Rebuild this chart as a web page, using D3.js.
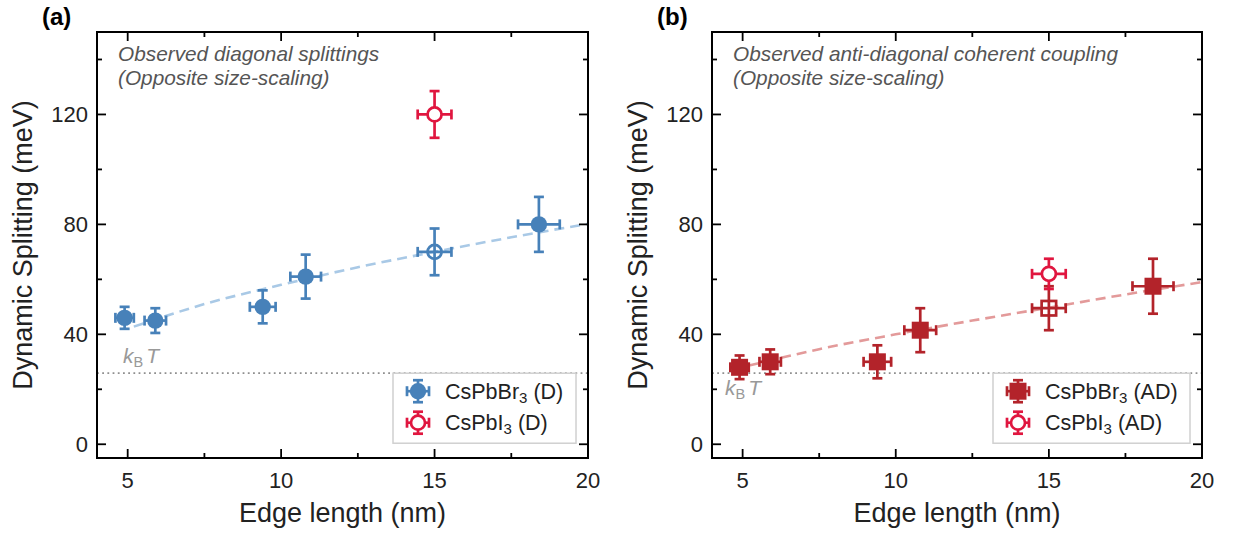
<!DOCTYPE html>
<html>
<head>
<meta charset="utf-8">
<script src="https://cdn.jsdelivr.net/npm/d3@7"></script>
<style>
  html, body { margin: 0; padding: 0; background: #fff; }
  svg { display: block; font-family: "Liberation Sans", Arial, sans-serif; }
</style>
</head>
<body>
<svg id="chart" width="1236" height="533"></svg>
<script>
// ---------------- data ----------------
const xTicks = [5, 10, 15, 20];
const xMinorTicks = [7.5, 12.5, 17.5];
const yTicks = [0, 40, 80, 120];
const yMinorTicks = [20, 60, 100, 140];
const kBT = 25.85;

// Panel (a) – diagonal splittings
const edgeBrD  = [4.9, 5.9, 9.4, 10.8, 15.0, 18.4];
const splitBrD = [46, 45, 50, 61, 70, 80];
const yErrBrD  = [4, 4.5, 6, 8, 8.5, 10];
const xErrBrD  = [0.3, 0.35, 0.42, 0.5, 0.55, 0.68];
const openBrD  = [false, false, false, false, true, false];

const edgeID  = [15.0];
const splitID = [120];
const yErrID  = [8.5];
const xErrID  = [0.55];

const fitEdgeD  = [5.2, 7.5, 10, 12.5, 15, 17.5, 20];
const fitSplitD = [42.8, 51, 58, 64.4, 70, 75.3, 80.2];

// Panel (b) – anti-diagonal coherent coupling
const edgeBrAD  = [4.9, 5.9, 9.4, 10.8, 15.0, 18.4];
const splitBrAD = [28, 30, 30, 41.5, 49.5, 57.5];
const yErrBrAD  = [4.3, 4.5, 6, 8, 8, 10];
const xErrBrAD  = [0.3, 0.35, 0.45, 0.52, 0.55, 0.67];
const openBrAD  = [false, false, false, false, true, false];

const edgeIAD  = [15.0];
const splitIAD = [62];
const yErrIAD  = [5.5];
const xErrIAD  = [0.55];

const fitEdgeAD  = [5.24, 7.5, 10, 12.5, 15, 17.5, 20];
const fitSplitAD = [28.7, 34.6, 40, 45, 49.7, 54.5, 59];

// ---------------- drawing ----------------
const svg = d3.select("#chart");

function zip(xs, ys, ye, xe, op) {
  return xs.map((x, i) => ({x, y: ys[i], ye: ye[i], xe: xe[i], open: op ? op[i] : false}));
}

function drawPanel(cfg) {
  const {left, right, top, bottom} = cfg;
  const x = d3.scaleLinear().domain([4, 20]).range([left, right]);
  const y = d3.scaleLinear().domain([-5, 150]).range([bottom, top]);
  const g = svg.append("g");

  // panel label
  g.append("text").attr("x", cfg.labelX).attr("y", 25)
    .attr("font-size", 24).attr("font-weight", "bold").attr("fill", "#000")
    .text(cfg.label);

  // subtitle
  cfg.subtitle.forEach((s, i) => {
    g.append("text").attr("x", left + 21).attr("y", 61 + i * 23.5)
      .attr("font-size", 20.8).attr("font-style", "italic").attr("fill", "#555")
      .text(s);
  });

  // kBT dotted line
  g.append("line")
    .attr("x1", x(4)).attr("x2", x(20)).attr("y1", y(kBT)).attr("y2", y(kBT))
    .attr("stroke", "#8f8f8f").attr("stroke-width", 1.8).attr("stroke-dasharray", "1.8,3.4");

  // kBT label
  const kt = g.append("text").attr("x", cfg.kbtX).attr("y", cfg.kbtY)
    .attr("font-size", 21).attr("fill", "#999");
  kt.append("tspan").attr("font-style", "italic").text("k");
  kt.append("tspan").attr("font-size", 14.5).attr("dy", 4).text("B");
  kt.append("tspan").attr("dy", -4).attr("font-style", "italic").attr("dx", 3).text("T");

  // fit line
  const fitData = cfg.fitX.map((v, i) => ({x: v, y: cfg.fitY[i]}));
  g.append("path").datum(fitData)
    .attr("d", d3.line().x(d => x(d.x)).y(d => y(d.y)).curve(d3.curveMonotoneX))
    .attr("fill", "none").attr("stroke", cfg.fitColor).attr("stroke-width", 2.6)
    .attr("stroke-dasharray", "10,6");

  // legend box
  const lg = g.append("g");
  lg.append("rect").attr("x", cfg.legX).attr("y", y(kBT)).attr("width", cfg.legW).attr("height", 70)
    .attr("fill", "#fff").attr("fill-opacity", 0.85).attr("stroke", "#d0d0d0").attr("stroke-width", 1.5);

  function errorbars(sel, px, py, dx, dy, color, cap) {
    sel.append("line").attr("x1", px).attr("x2", px).attr("y1", py - dy).attr("y2", py + dy)
      .attr("stroke", color).attr("stroke-width", 2.7);
    sel.append("line").attr("x1", px - dx).attr("x2", px + dx).attr("y1", py).attr("y2", py)
      .attr("stroke", color).attr("stroke-width", 2.7);
    [[px - cap, px + cap, py - dy, py - dy], [px - cap, px + cap, py + dy, py + dy]].forEach(c =>
      sel.append("line").attr("x1", c[0]).attr("x2", c[1]).attr("y1", c[2]).attr("y2", c[3])
        .attr("stroke", color).attr("stroke-width", 2.7));
    [[px - dx, px - dx, py - cap, py + cap], [px + dx, px + dx, py - cap, py + cap]].forEach(c =>
      sel.append("line").attr("x1", c[0]).attr("x2", c[1]).attr("y1", c[2]).attr("y2", c[3])
        .attr("stroke", color).attr("stroke-width", 2.7));
  }

  function marker(sel, shape, px, py, color, open, whiteFill) {
    if (shape === "circle") {
      const r = open ? 7 : 8.2;
      sel.append("circle").attr("cx", px).attr("cy", py).attr("r", r)
        .attr("fill", open ? (whiteFill ? "#fff" : "none") : color)
        .attr("stroke", color).attr("stroke-width", open ? 2.7 : 0);
    } else {
      const s = open ? 14.5 : 17;
      sel.append("rect").attr("x", px - s / 2).attr("y", py - s / 2).attr("width", s).attr("height", s)
        .attr("fill", open ? (whiteFill ? "#fff" : "none") : color)
        .attr("stroke", color).attr("stroke-width", open ? 2.7 : 0);
    }
  }

  function drawSeries(data, shape, color, whiteFill) {
    const sg = g.append("g");
    data.forEach(d => {
      const px = x(d.x), py = y(d.y);
      const dx = x(d.x + d.xe) - px;
      const dy = py - y(d.y + d.ye);
      errorbars(sg, px, py, dx, dy, color, 5);
      marker(sg, shape, px, py, color, d.open || whiteFill, whiteFill);
    });
  }

  drawSeries(cfg.brData, cfg.brShape, cfg.brColor, false);
  drawSeries(cfg.iData, "circle", cfg.iColor, true);

  // legend entries
  const ly0 = y(kBT) + 18, ly1 = y(kBT) + 49.5;
  const lmx = cfg.legX + 25;
  errorbars(lg, lmx, ly0, 11, 11, cfg.brColor, 5);
  marker(lg, cfg.brShape, lmx, ly0, cfg.brColor, false, false);
  errorbars(lg, lmx, ly1, 11, 11, cfg.iColor, 5);
  marker(lg, "circle", lmx, ly1, cfg.iColor, true, true);
  cfg.legText.forEach((t, i) => {
    const tx = lg.append("text").attr("x", lmx + 27).attr("y", (i ? ly1 : ly0) + 7.5)
      .attr("font-size", 21.5).attr("fill", "#222");
    tx.append("tspan").text(t[0]);
    tx.append("tspan").attr("font-size", 15).attr("dy", 4).text("3");
    tx.append("tspan").attr("dy", -4).text(" " + t[1]);
  });

  // frame
  g.append("rect").attr("x", left).attr("y", top).attr("width", right - left).attr("height", bottom - top)
    .attr("fill", "none").attr("stroke", "#000").attr("stroke-width", 2);

  // ticks (inward, all four sides)
  const tk = g.append("g").attr("stroke", "#000").attr("stroke-width", 1.8);
  const MAJ = 9, MIN = 5;
  xTicks.forEach(v => {
    tk.append("line").attr("x1", x(v)).attr("x2", x(v)).attr("y1", bottom).attr("y2", bottom - MAJ);
    tk.append("line").attr("x1", x(v)).attr("x2", x(v)).attr("y1", top).attr("y2", top + MAJ);
  });
  xMinorTicks.forEach(v => {
    tk.append("line").attr("x1", x(v)).attr("x2", x(v)).attr("y1", bottom).attr("y2", bottom - MIN);
    tk.append("line").attr("x1", x(v)).attr("x2", x(v)).attr("y1", top).attr("y2", top + MIN);
  });
  yTicks.forEach(v => {
    tk.append("line").attr("y1", y(v)).attr("y2", y(v)).attr("x1", left).attr("x2", left + MAJ);
    tk.append("line").attr("y1", y(v)).attr("y2", y(v)).attr("x1", right).attr("x2", right - MAJ);
  });
  yMinorTicks.forEach(v => {
    tk.append("line").attr("y1", y(v)).attr("y2", y(v)).attr("x1", left).attr("x2", left + MIN);
    tk.append("line").attr("y1", y(v)).attr("y2", y(v)).attr("x1", right).attr("x2", right - MIN);
  });

  // tick labels
  xTicks.forEach(v => {
    g.append("text").attr("x", x(v)).attr("y", bottom + 30).attr("text-anchor", "middle")
      .attr("font-size", 22).attr("fill", "#222").text(v);
  });
  yTicks.forEach(v => {
    g.append("text").attr("x", left - 9).attr("y", y(v) + 8).attr("text-anchor", "end")
      .attr("font-size", 22).attr("fill", "#222").text(v);
  });

  // axis titles
  g.append("text").attr("x", (left + right) / 2).attr("y", 522).attr("text-anchor", "middle")
    .attr("font-size", 27).attr("fill", "#222").text("Edge length (nm)");
  g.append("text").attr("transform", `translate(${left - 65},${(top + bottom) / 2}) rotate(-90)`)
    .attr("text-anchor", "middle").attr("font-size", 27).attr("fill", "#222").text("Dynamic Splitting (meV)");
}

drawPanel({
  left: 97, right: 588, top: 32, bottom: 458,
  label: "(a)", labelX: 42,
  subtitle: ["Observed diagonal splittings", "(Opposite size-scaling)"],
  kbtX: 123, kbtY: 363,
  fitX: fitEdgeD, fitY: fitSplitD, fitColor: "#a9c9e6",
  brData: zip(edgeBrD, splitBrD, yErrBrD, xErrBrD, openBrD), brShape: "circle", brColor: "#4781b9",
  iData: zip(edgeID, splitID, yErrID, xErrID), iColor: "#e0163f",
  legX: 393, legW: 183,
  legText: [["CsPbBr", "(D)"], ["CsPbI", "(D)"]]
});

drawPanel({
  left: 712, right: 1202, top: 32, bottom: 458,
  label: "(b)", labelX: 657,
  subtitle: ["Observed anti-diagonal coherent coupling", "(Opposite size-scaling)"],
  kbtX: 725, kbtY: 395,
  fitX: fitEdgeAD, fitY: fitSplitAD, fitColor: "#e39a9a",
  brData: zip(edgeBrAD, splitBrAD, yErrBrAD, xErrBrAD, openBrAD), brShape: "square", brColor: "#b3232a",
  iData: zip(edgeIAD, splitIAD, yErrIAD, xErrIAD), iColor: "#e0163f",
  legX: 993, legW: 197,
  legText: [["CsPbBr", "(AD)"], ["CsPbI", "(AD)"]]
});
</script>
</body>
</html>
